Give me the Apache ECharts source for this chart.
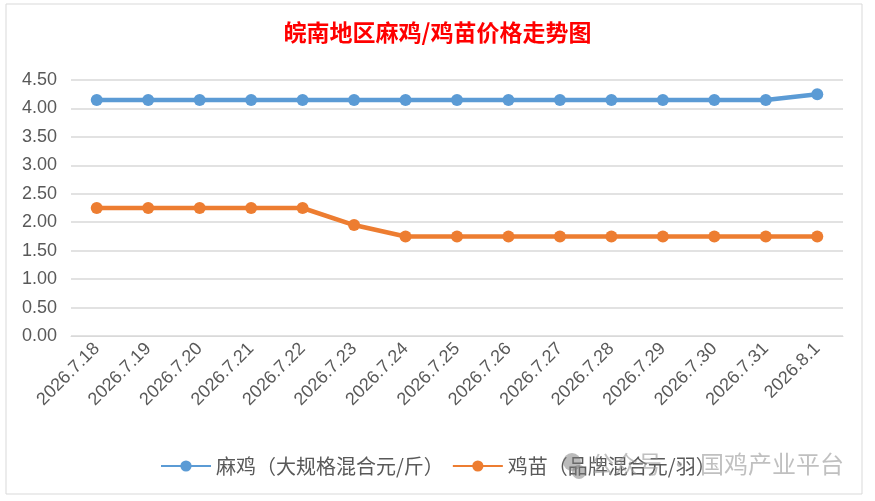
<!DOCTYPE html>
<html>
<head>
<meta charset="utf-8">
<script src="https://cdn.jsdelivr.net/npm/echarts@6/dist/echarts.min.js"></script>
<style>
  html, body { margin: 0; padding: 0; background: #fff; }
  #chart { width: 875px; height: 501px; }
</style>
</head>
<body>
<div id="chart"></div>
<script>
var dates = ['2026.7.18', '2026.7.19', '2026.7.20', '2026.7.21', '2026.7.22', '2026.7.23', '2026.7.24',
  '2026.7.25', '2026.7.26', '2026.7.27', '2026.7.28', '2026.7.29', '2026.7.30', '2026.7.31', '2026.8.1']
var maJi = [4.15, 4.15, 4.15, 4.15, 4.15, 4.15, 4.15, 4.15, 4.15, 4.15, 4.15, 4.15, 4.15, 4.15, 4.25]
var jiMiao = [2.25, 2.25, 2.25, 2.25, 2.25, 1.95, 1.75, 1.75, 1.75, 1.75, 1.75, 1.75, 1.75, 1.75, 1.75]
var seriesNames = ['麻鸡（大规格混合元/斤）', '鸡苗（品牌混合元/羽）']

var chart = echarts.init(document.getElementById('chart'))

// watermark style
var wmStyle = {
  fill: 'rgba(150,150,150,0.6)',
  fontSize: 24,
  fontFamily: 'Noto Sans CJK SC'
}

var option = {
  backgroundColor: '#fff',
  animation: false,
  title: {
    text: '皖南地区麻鸡/鸡苗价格走势图',
    left: 'center',
    top: 16,
    textStyle: {
      color: '#FF0000',
      fontFamily: 'Noto Sans CJK SC',
      fontWeight: 'bold',
      fontSize: 23
    }
  },
  legend: {
    bottom: 20,
    left: 155,
    itemWidth: 50,
    itemHeight: 14,
    itemGap: 8,
    textStyle: { color: '#595959', fontSize: 20, fontFamily: 'Noto Sans CJK SC' },
    data: seriesNames
  },
  grid: { left: 71, right: 32, top: 80, bottom: 165 },
  xAxis: {
    type: 'category',
    data: dates,
    boundaryGap: true,
    axisLine: { show: true, lineStyle: { color: '#D9D9D9' } },
    axisTick: { show: false },
    axisLabel: { rotate: 45, color: '#595959', fontSize: 18, margin: 10, interval: 0 }
  },
  yAxis: {
    type: 'value',
    min: 0,
    max: 4.5,
    interval: 0.5,
    axisLine: { show: false },
    axisTick: { show: false },
    splitLine: { lineStyle: { color: '#D9D9D9', width: 1.5 } },
    axisLabel: {
      color: '#595959',
      fontSize: 18,
      margin: 14,
      formatter: function (v) { return v.toFixed(2) }
    }
  },
  series: [
    {
      name: seriesNames[0],
      type: 'line',
      data: maJi,
      symbol: 'circle',
      symbolSize: 12,
      lineStyle: { width: 4.5, color: '#5B9BD5' },
      itemStyle: { color: '#5B9BD5' }
    },
    {
      name: seriesNames[1],
      type: 'line',
      data: jiMiao,
      symbol: 'circle',
      symbolSize: 12,
      lineStyle: { width: 4.5, color: '#ED7D31' },
      itemStyle: { color: '#ED7D31' }
    }
  ],
  graphic: [
    {
      type: 'rect',
      shape: { x: 6, y: 4, width: 856, height: 490 },
      style: { fill: 'none', stroke: '#D9D9D9', lineWidth: 1 },
      silent: true
    },
    {
      type: 'circle',
      shape: { cx: 572, cy: 462, r: 9 },
      style: { fill: 'rgba(120,120,120,0.5)' },
      silent: true,
      z: 100
    },
    {
      type: 'circle',
      shape: { cx: 579, cy: 472, r: 7 },
      style: { fill: 'rgba(120,120,120,0.5)' },
      silent: true,
      z: 100
    },
    {
      type: 'text',
      left: 590,
      top: 452,
      style: Object.assign({ text: '公众号 ·' }, wmStyle),
      silent: true,
      z: 100
    },
    {
      type: 'text',
      left: 700,
      top: 452,
      style: Object.assign({ text: '国鸡产业平台' }, wmStyle),
      silent: true,
      z: 100
    }
  ]
}

chart.setOption(option)
</script>
</body>
</html>
